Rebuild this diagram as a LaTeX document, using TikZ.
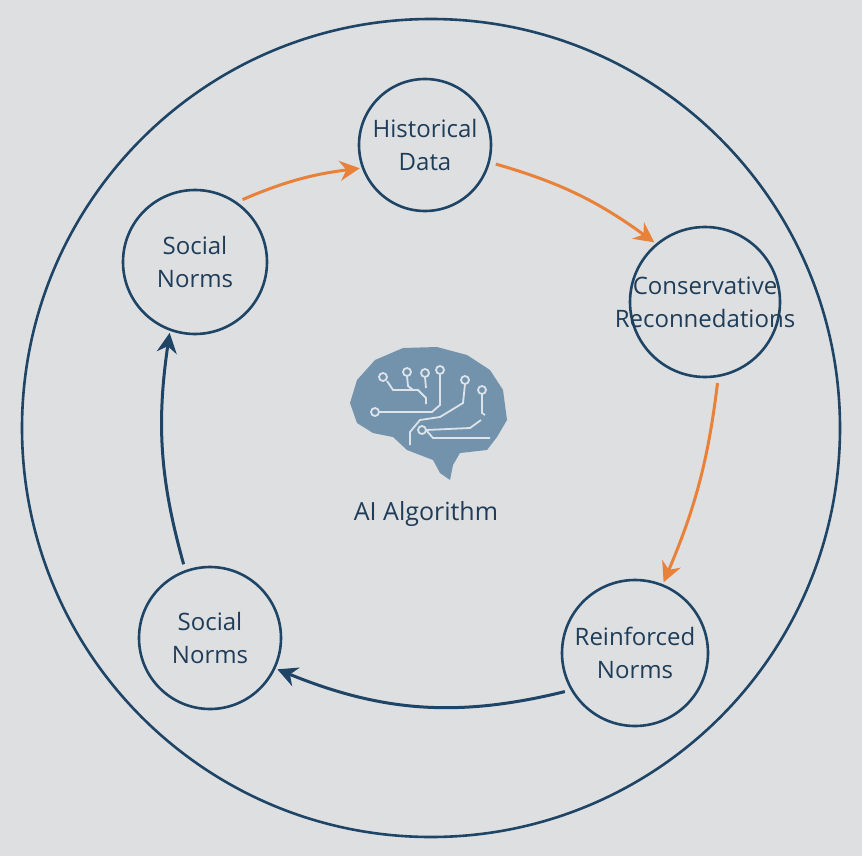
\documentclass[tikz,border=0pt]{standalone}
\usepackage{fontspec}
\setmainfont{Open Sans}
\usetikzlibrary{arrows.meta}
\definecolor{bg}{HTML}{DEDFE1}
\definecolor{navy}{HTML}{1E4466}
\definecolor{org}{HTML}{E8823A}
\definecolor{brain}{HTML}{7393AD}
\definecolor{trace}{HTML}{DCE3EA}
\definecolor{txt}{HTML}{1F3D58}
\begin{document}
\begin{tikzpicture}[x=1pt,y=-1pt,
  stage/.style={circle,draw=navy,line width=2.6pt,text=txt,align=center,font=\fontsize{24}{33}\selectfont,inner sep=0pt},
  lbl/.style={text=txt,align=center,font=\fontsize{24}{33}\selectfont,inner sep=0pt},
  oarr/.style={draw=org,line width=3pt,-{Stealth[length=20pt,width=20pt]},shorten <=6pt,shorten >=2pt},
  barr/.style={draw=navy,line width=3pt,-{Stealth[length=20pt,width=20pt]},shorten <=6pt,shorten >=2pt},
  tr/.style={draw=trace,line width=1.8pt},
  dot/.style={circle,draw=trace,line width=1.8pt,fill=brain,minimum size=8pt,inner sep=0pt}]
\fill[bg] (0,0) rectangle (862,856);
\useasboundingbox (0,0) rectangle (862,856);
\node[circle,draw=navy,line width=2.6pt,minimum size=818pt] (outer) at (431,428) {};
\node[stage,minimum size=132pt] (hist) at (425,145) {Historical\\Data};
\node[stage,minimum size=144pt] (sn1) at (195,262) {Social\\Norms};
\node[stage,minimum size=150pt] (cons) at (705,302) {};
\node[lbl] (consl) at (cons.center) {Conservative\\Reconnedations};
\node[stage,minimum size=146pt] (reinf) at (635,653) {Reinforced\\Norms};
\node[stage,minimum size=142pt] (sn2) at (210,638) {Social\\Norms};
% brain
\fill[brain] (357,380) -- (375,360) -- (403,348) -- (437,347) -- (467,355) -- (490,370) -- (503,390) -- (507,420) -- (497,437) -- (487,450) -- (460,453) -- (453,465) -- (450,480) -- (440,473) -- (433,460) -- (407,450) -- (393,437) -- (373,433) -- (357,423) -- (350,403) -- cycle;
\draw[tr] (387,381) -- (393,390) -- (418,390) -- (426,398) -- (426,404);
\draw[tr] (407,376) -- (408,386) -- (413,390);
\draw[tr] (425,377) -- (426,388);
\draw[tr] (440,374) -- (440,405) -- (432,412) -- (392,412) -- (379,412);
\draw[tr] (465,384) -- (463,403) -- (440,417) -- (420,420) -- (410,432) -- (410,445);
\draw[tr] (482,394) -- (482,413) -- (485,415);
\draw[tr] (426,430) -- (470,428) -- (481,420);
\draw[tr] (426,430) -- (433,438) -- (490,438);
\node[dot] (d1) at (383,377) {};
\node[dot] (d2) at (407,372) {};
\node[dot] (d3) at (425,373) {};
\node[dot] (d4) at (440,370) {};
\node[dot] (d5) at (465,380) {};
\node[dot] (d6) at (482,390) {};
\node[dot] (d7) at (375,412) {};
\node[dot] (d8) at (422,430) {};
\node[text=txt,font=\fontsize{25}{30}\selectfont] (ai) at (426,514) {AI Algorithm};
% arrows
\draw[oarr] (sn1.55) to[bend left=8] (hist.200);
\draw[oarr] (hist.-15) to[bend left=10] (cons.130);
\draw[oarr] (cons.-80) to[bend left=8] (reinf.68);
\draw[barr] (reinf.-150) to[bend left=18] (sn2.-25);
\draw[barr] (sn2.110) to[bend left=12] (sn1.-110);
\end{tikzpicture}
\end{document}
